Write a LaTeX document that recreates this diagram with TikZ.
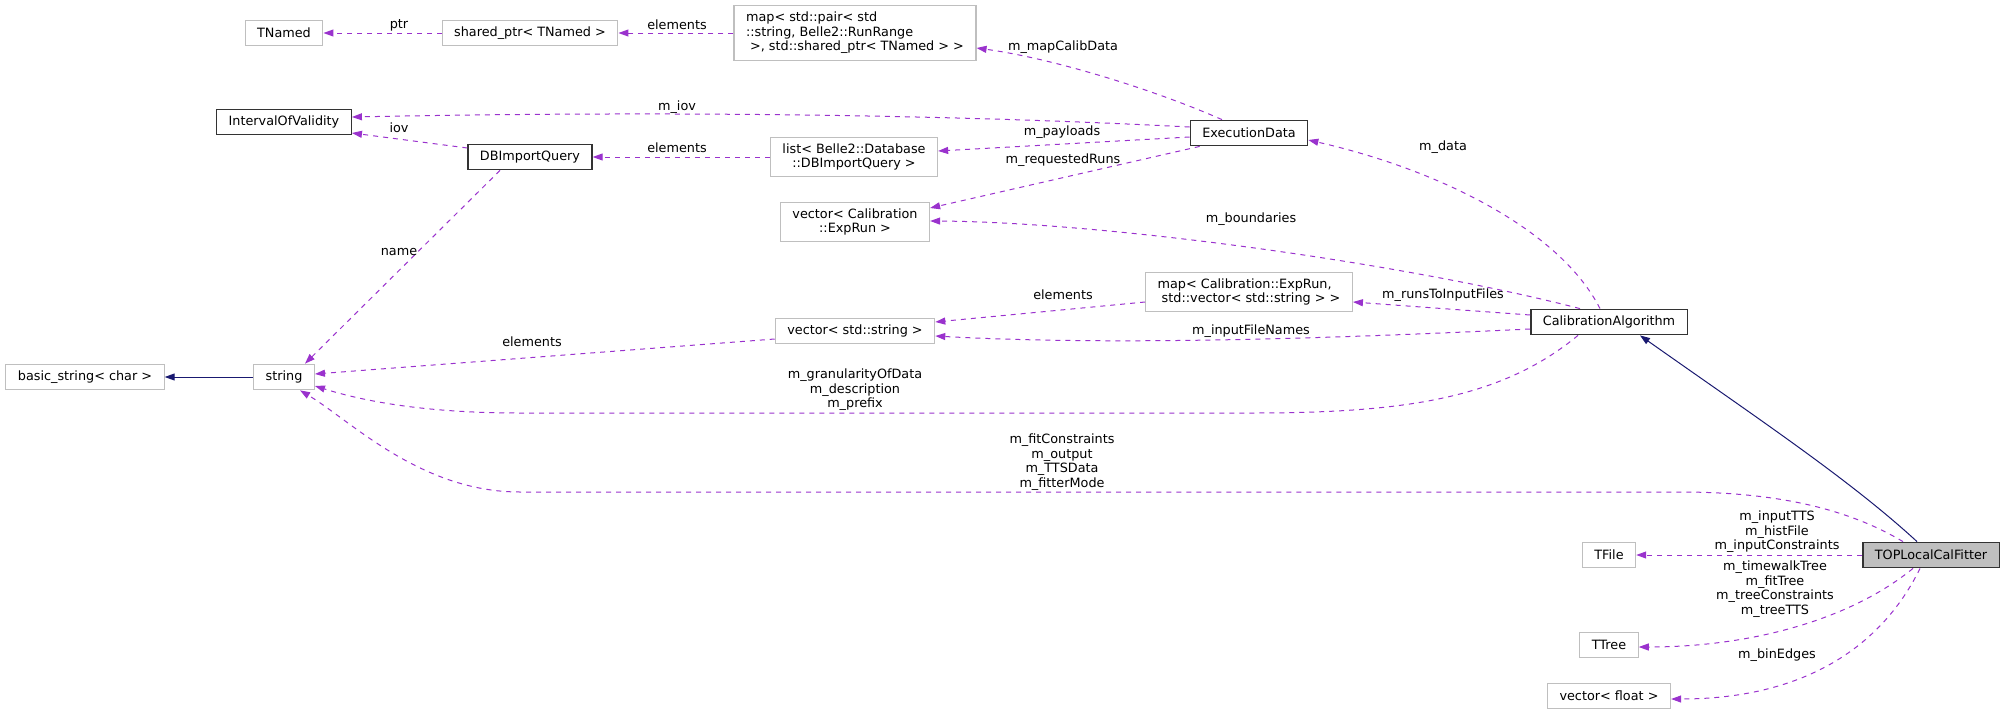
\documentclass[tikz,border=0pt]{standalone}
\usepackage{fontspec}
\setmainfont{DejaVu Sans}
\usetikzlibrary{arrows.meta,calc}

\definecolor{edgepurple}{HTML}{9A32CD}
\definecolor{inhnavy}{HTML}{191970}
\definecolor{boxgray}{HTML}{BFBFBF}

\begin{document}
\begin{tikzpicture}[x=1pt,y=-1pt,>={Triangle[length=10pt,width=7pt]},
    font=\fontsize{12.8}{14.6}\selectfont]
  \tikzstyle{cls}=[draw=boxgray,line width=1.2pt,fill=white,inner xsep=12pt,inner ysep=6.3pt,minimum height=25.5pt,align=center]
  \tikzstyle{doc}=[cls,draw=black!80,line width=1.3pt]
  \tikzstyle{dep}=[->,draw=edgepurple,line width=1pt,dash pattern=on 5pt off 5pt]
  \tikzstyle{inh}=[->,draw=inhnavy,line width=1pt]
  \tikzstyle{lbl}=[inner sep=0pt,align=center]

  \useasboundingbox (0,0) rectangle (2005,715);

  \node[cls] at ( 284, 33) (tnamed) {TNamed};
  \node[cls] at ( 530, 33) (shared) {shared\_ptr< TNamed >};
  \node[cls,align=left] at ( 855, 33) (mapcalib) {map< std::pair< std\\::string, Belle2::RunRange\\\ >, std::shared\_ptr< TNamed > >};
  \node[doc] at ( 284,122) (iov) {IntervalOfValidity};
  \node[doc] at ( 530,157) (dbquery) {DBImportQuery};
  \node[cls] at ( 854,157) (dblist) {list< Belle2::Database\\::DBImportQuery >};
  \node[cls] at ( 855,222) (vecexp) {vector< Calibration\\::ExpRun >};
  \node[doc] at (1249,133) (exec) {ExecutionData};
  \node[cls,align=left] at (1249,292) (mapruns) {map< Calibration::ExpRun,\\\ std::vector< std::string > >};
  \node[cls] at ( 855,331) (vecstr) {vector< std::string >};
  \node[doc] at (1609,322) (calib) {CalibrationAlgorithm};
  \node[cls] at (  85,377) (basic) {basic\_string< char >};
  \node[cls] at ( 284,377) (string) {string};
  \node[doc,fill=boxgray] at (1931,555) (top) {TOPLocalCalFitter};
  \node[cls] at (1609,555) (tfile) {TFile};
  \node[cls] at (1609,645) (ttree) {TTree};
  \node[cls] at (1609,696) (vfloat) {vector< float >};

  % inheritance
  \draw[inh] (string) -- (basic);
  \draw[inh] ($(top.north)+(-14,0)$) .. controls (1850,480) and (1760,420) .. ($(calib.south)+(31,0)$);

  % members
  \draw[dep] (shared) -- (tnamed);
  \draw[dep] (mapcalib.west |- shared) -- (shared);
  \draw[dep] ($(exec.north)+(-27,0)$) .. controls (1150,88) and (1050,58) .. ($(mapcalib.east)+(0,15)$);
  \draw[dep] ($(exec.west)+(0,-6)$) .. controls (900,112) and (600,112) .. ($(iov.east)+(0,-5)$);
  \draw[dep] ($(exec.west)+(0,4)$) -- ($(dblist.east)+(0,-6)$);
  \draw[dep] ($(exec.south west)+(10,0)$) -- ($(vecexp.east)+(0,-14)$);
  \draw[dep] ($(dbquery.west)+(0,-9)$) -- ($(iov.east)+(0,11)$);
  \draw[dep] (dblist) -- (dbquery);
  \draw[dep] ($(dbquery.south)+(-30,0)$) -- ($(string.north)+(21,0)$);
  \draw[dep] ($(calib.north)+(-9,0)$) .. controls (1560,230) and (1440,170) .. ($(exec.east)+(0,7)$);
  \draw[dep] ($(calib.north)+(-29,0)$) .. controls (1400,262) and (1100,222) .. ($(vecexp.east)+(0,-1)$);
  \draw[dep] ($(calib.west)+(0,-7)$) -- ($(mapruns.east)+(0,10)$);
  \draw[dep] ($(calib.west)+(0,7)$) .. controls (1300,340) and (1100,345) .. ($(vecstr.east)+(0,5)$);
  \draw[dep] ($(mapruns.west)+(0,10)$) -- ($(vecstr.east)+(0,-9)$);
  \draw[dep] ($(vecstr.west)+(0,8)$) -- ($(string.east)+(0,-3)$);
  \draw[dep] ($(calib.south)+(-31,0)$) .. controls (1500,400) and (1400,413) .. (1250,413)
    -- (520,413) .. controls (420,413) and (360,400) .. ($(string.east)+(0,9)$);
  \draw[dep] ($(top.north)+(-28,0)$) .. controls (1850,510) and (1780,492) .. (1680,492)
    -- (520,492) .. controls (420,492) and (350,420) .. ($(string.south)+(16,0)$);
  \draw[dep] (top) -- (tfile);
  \draw[dep] ($(top.south)+(-18,0)$) .. controls (1850,620) and (1750,647) .. ($(ttree.east)+(0,2)$);
  \draw[dep] ($(top.south)+(-11,0)$) .. controls (1880,650) and (1800,699) .. ($(vfloat.east)+(0,3)$);

  % labels
  \node[lbl] at ( 399, 25) (lptr) {ptr};
  \node[lbl] at ( 677, 25) (lelem1) {elements};
  \node[lbl] at (1063, 47) (lmapcalib) {m\_mapCalibData};
  \node[lbl] at ( 677,107) (lmiov) {m\_iov};
  \node[lbl] at ( 399,128) (liov) {iov};
  \node[lbl] at ( 677,148) (lelem2) {elements};
  \node[lbl] at (1062,132) (lpayloads) {m\_payloads};
  \node[lbl] at (1063,160) (lreqruns) {m\_requestedRuns};
  \node[lbl] at (1443,147) (ldata) {m\_data};
  \node[lbl] at (1251,219) (lbounds) {m\_boundaries};
  \node[lbl] at (1063,295) (lelem3) {elements};
  \node[lbl] at (1443,295) (lruns) {m\_runsToInputFiles};
  \node[lbl] at ( 399,252) (lname) {name};
  \node[lbl] at (1251,331) (lfiles) {m\_inputFileNames};
  \node[lbl] at ( 532,342) (lelem4) {elements};
  \node[lbl] at ( 855,390) (lgran) {m\_granularityOfData\\m\_description\\m\_prefix};
  \node[lbl] at (1062,462) (lfit) {m\_fitConstraints\\m\_output\\m\_TTSData\\m\_fitterMode};
  \node[lbl] at (1777,532) (ltfile) {m\_inputTTS\\m\_histFile\\m\_inputConstraints};
  \node[lbl] at (1775,589) (lttree) {m\_timewalkTree\\m\_fitTree\\m\_treeConstraints\\m\_treeTTS};
  \node[lbl] at (1777,655) (lbins) {m\_binEdges};
\end{tikzpicture}
\end{document}
